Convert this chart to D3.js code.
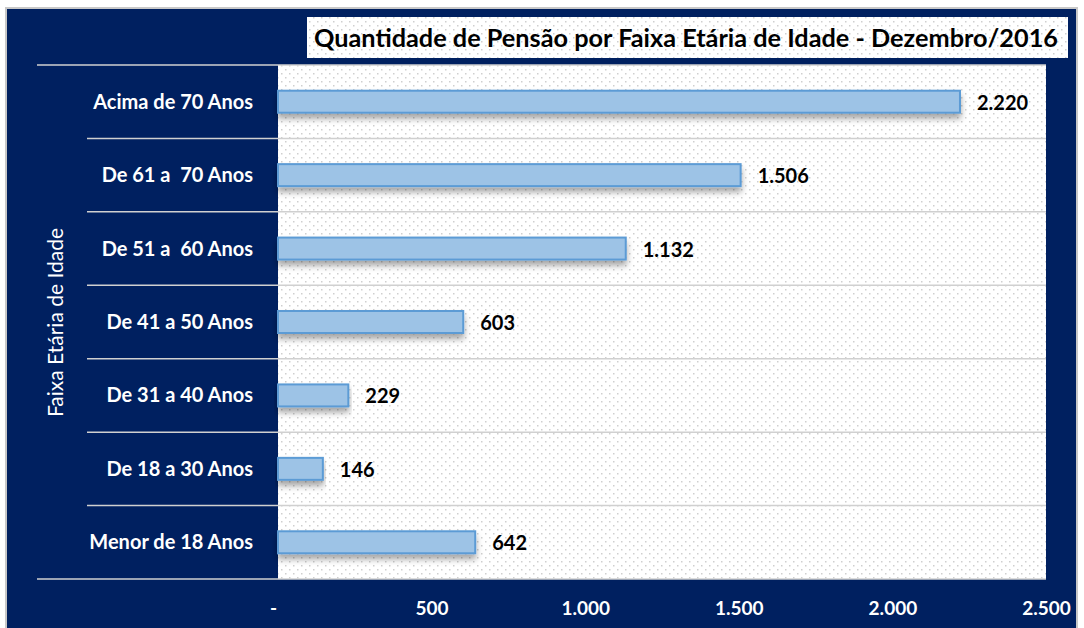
<!DOCTYPE html>
<html>
<head>
<meta charset="utf-8">
<script src="https://cdn.jsdelivr.net/npm/d3@7"></script>
<style>
  body { margin: 0; background: #fff; }
  svg text { font-family: Lato, "Open Sans", sans-serif; }
</style>
</head>
<body>
<div id="vis"></div>
<script>
// chart size
const FRAME_WIDTH = 1084;
const FRAME_HEIGHT = 628;
const PLOT = {left: 278, right: 1046, top: 65, bottom: 579};

// data
const categories = ["Acima de 70 Anos", "De 61 a  70 Anos", "De 51 a  60 Anos",
                    "De 41 a 50 Anos", "De 31 a 40 Anos", "De 18 a 30 Anos", "Menor de 18 Anos"];
const values = [2220, 1506, 1132, 603, 229, 146, 642];
const tickValues = [0, 500, 1000, 1500, 2000, 2500];
const tickLabels = ["-", "500", "1.000", "1.500", "2.000", "2.500"];

const fmt = (v) => d3.format(",")(v).replace(/,/g, ".");

const svg = d3.select("#vis")
  .append("svg")
    .attr("width", FRAME_WIDTH)
    .attr("height", FRAME_HEIGHT);

const defs = svg.append("defs");

// dotted fill like the excel pattern
const pat = defs.append("pattern")
  .attr("id", "dots")
  .attr("width", 8).attr("height", 8)
  .attr("patternUnits", "userSpaceOnUse");
pat.append("rect").attr("width", 8).attr("height", 8).attr("fill", "#fff");
pat.append("rect").attr("x", 1).attr("y", 1).attr("width", 1.5).attr("height", 1.5).attr("fill", "#cfcfcf");
pat.append("rect").attr("x", 5).attr("y", 5).attr("width", 1.5).attr("height", 1.5).attr("fill", "#cfcfcf");

const shadow = defs.append("filter")
  .attr("id", "shadow")
  .attr("x", "-5%").attr("y", "-50%")
  .attr("width", "110%").attr("height", "250%");
shadow.append("feDropShadow")
  .attr("dx", 0).attr("dy", 5)
  .attr("stdDeviation", 3)
  .attr("flood-color", "#000")
  .attr("flood-opacity", 0.35);

// outer frame
svg.append("rect")
  .attr("x", 6).attr("y", 8)
  .attr("width", 1071).attr("height", 622)
  .attr("fill", "#002060")
  .attr("stroke", "#c8c8c8")
  .attr("stroke-width", 2);

// title box
svg.append("rect")
  .attr("x", 307).attr("y", 17)
  .attr("width", 761).attr("height", 41)
  .attr("fill", "url(#dots)");
svg.append("text")
  .attr("x", 686).attr("y", 47)
  .attr("text-anchor", "middle")
  .attr("font-size", 24)
  .attr("font-weight", "bold")
  .attr("fill", "#000")
  .attr("textLength", 744)
  .attr("lengthAdjust", "spacingAndGlyphs")
  .text("Quantidade de Pensão por Faixa Etária de Idade - Dezembro/2016");

// scales
const X_SCALE = d3.scaleLinear()
  .domain([0, 2500])
  .range([PLOT.left, PLOT.right]);

const Y_SCALE = d3.scaleBand()
  .domain(categories)
  .range([PLOT.top, PLOT.bottom]);

// plot area
svg.append("rect")
  .attr("x", PLOT.left).attr("y", PLOT.top)
  .attr("width", PLOT.right - PLOT.left)
  .attr("height", PLOT.bottom - PLOT.top)
  .attr("fill", "url(#dots)");

// separators between categories
const seps = d3.range(categories.length + 1).map((i) => PLOT.top + i * Y_SCALE.step());
svg.selectAll(".sep")
  .data(seps)
  .enter()
  .append("line")
    .attr("x1", (d, i) => (i === 0 || i === categories.length) ? 37 : 87)
    .attr("x2", PLOT.right)
    .attr("y1", (d) => d)
    .attr("y2", (d) => d)
    .attr("stroke", "#d0d0d0")
    .attr("stroke-width", 1.5);

// bars
const BAR_H = 22;
svg.selectAll(".bar")
  .data(values)
  .enter()
  .append("rect")
    .attr("x", X_SCALE(0))
    .attr("y", (d, i) => Y_SCALE(categories[i]) + Y_SCALE.bandwidth() / 2 - BAR_H / 2)
    .attr("width", (d) => X_SCALE(d) - X_SCALE(0))
    .attr("height", BAR_H)
    .attr("fill", "#9dc3e6")
    .attr("stroke", "#5b9bd5")
    .attr("stroke-width", 2)
    .attr("filter", "url(#shadow)");

// value labels
svg.selectAll(".val")
  .data(values)
  .enter()
  .append("text")
    .attr("x", (d) => X_SCALE(d) + 17)
    .attr("y", (d, i) => Y_SCALE(categories[i]) + Y_SCALE.bandwidth() / 2 + 8)
    .attr("font-size", 20)
    .attr("font-weight", "bold")
    .attr("fill", "#000")
    .text((d) => fmt(d));

// category labels
svg.selectAll(".cat")
  .data(categories)
  .enter()
  .append("text")
    .attr("x", 253)
    .attr("y", (d) => Y_SCALE(d) + Y_SCALE.bandwidth() / 2 + 7)
    .attr("text-anchor", "end")
    .attr("font-size", 20)
    .attr("font-weight", "bold")
    .attr("fill", "#fff")
    .style("white-space", "pre")
    .text((d) => d);

// x axis
const xAxis = svg.append("g")
  .attr("transform", "translate(0,598)")
  .call(d3.axisBottom(X_SCALE)
    .tickValues(tickValues)
    .tickSize(0)
    .tickFormat((d, i) => tickLabels[i]));
xAxis.select(".domain").remove();
xAxis.selectAll("text")
  .attr("fill", "#fff")
  .attr("font-size", 19)
  .attr("font-weight", "bold")
  .attr("font-family", "Lato, sans-serif");
xAxis.selectAll(".tick").filter((d) => d === 0).select("text").attr("dx", -5);

// y axis title
svg.append("text")
  .attr("transform", "translate(63," + ((228 + 417) / 2) + ") rotate(-90)")
  .attr("text-anchor", "middle")
  .attr("font-size", 21)
  .attr("fill", "#fff")
  .text("Faixa Etária de Idade");
</script>
</body>
</html>
